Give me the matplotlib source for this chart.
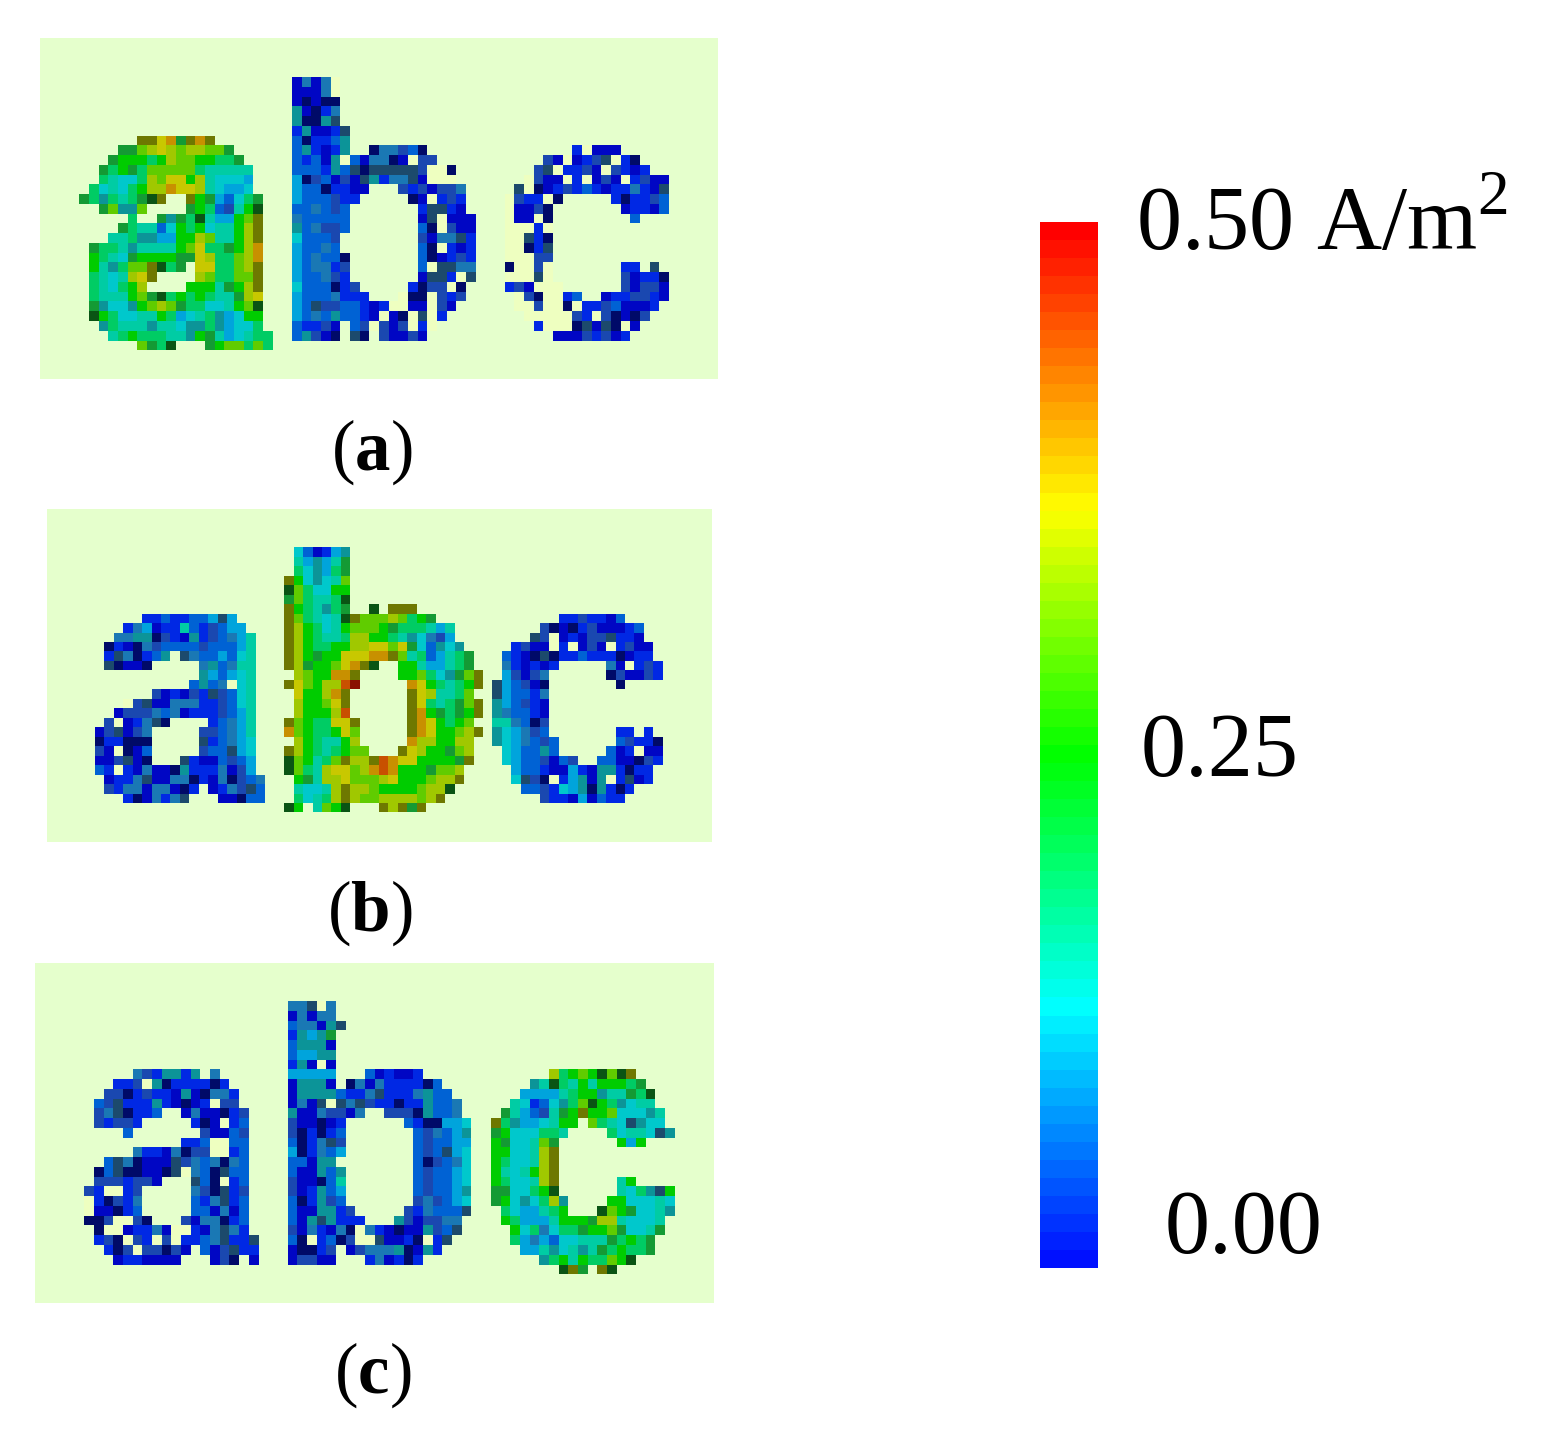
import matplotlib
matplotlib.use('Agg')
import matplotlib.pyplot as plt
from matplotlib.colors import ListedColormap, BoundaryNorm, LinearSegmentedColormap, Normalize
from matplotlib.colorbar import ColorbarBase
import numpy as np

W, H = 1550, 1435

plt.rcParams['font.family'] = ['Liberation Serif', 'DejaVu Serif']
plt.rcParams['mathtext.fontset'] = 'custom'
plt.rcParams['mathtext.rm'] = 'Liberation Serif'
plt.rcParams['mathtext.bf'] = 'Liberation Serif:bold'

# cell codes, '.' = no data
PANEL_A_LEFT = [
    "......................dtdtw....",
    "......................dddtw....",
    "......................dndnn....",
    "......................Tdnbt....",
    "......................TnnTs....",
    "......................bTddbs...",
    "......OOYaKOaO........mnbbmT...",
    "....KKloYoloollK......mTbdbT..n",
    "...KGGGgGollGGggK.....mbmdTwmdt",
    "..KgGKglllllgeeeee....mmmbTmsns",
    "..geyygolYYGoeyyyc....cnumdudsT",
    ".gyeygGooaYYoeyccy....cmmnbbdd.",
    "KgTgegKkO..OGKcmygK...cmmmubb..",
    "..KlTTl....KGgmueGk...mmtmum...",
    ".....g..KTKgkeccGlO...tmmmmm...",
    "....KgeemyGgGyeeGoO...Tmtuum...",
    "...eegTTccGGoleeGoO...ymmmu....",
    ".KggeTeeeeGlYggKGoa...cmmtm....",
    ".GgeyKGGGGKKYoggloa...cmtmmn...",
    ".GeTgllOkgK.YYggloO...cmttbu...",
    ".geyeoYO....olggllO...cmmtub...",
    ".geygGo....GGGeKGoO...ymmmnbu..",
    ".geeeGlKkgGgGgeeKoY...cmmmtbbb.",
    ".KTyyTGlolKggyyeGlk...cmsuummbd",
    ".kGgyyeeGgcyegTcyGG...cmtmTmmbd",
    "..TgeeeTeeyTTgTcyyg...mbbud.muw",
    "...egGgggeeTGKecyegg..mTudn.sn.",
    "......lKgk...KGllglg...........",
]
PANEL_A_RIGHT = [
    "", "", "", "", "", "", "",
    "ttumn...............bwddd.....",
    "tndwuu...........udwdbuswbn...",
    "ssssuwwn........uswbbudwubdb..",
    "bttsdwww.......wuddwbwdudwbudd",
    "..ubuduut.....swndbubmbdbbtbds",
    "...ndwbub....wubbwn.....bnbbum",
    "....bssbd....wddun.......dbbdm",
    "....dswddd...wddwn........m...",
    "....mnwudd...wwwbw............",
    "....udttsb...wwsbn............",
    "....mnwbdb...wwnbs............",
    "....mndbub...wwwuu............",
    "....mwsstt...nwwuw.......bb.s.",
    "....dssbws...wwwsw.......udbbn",
    "...bnuuwn....budwww......uduud",
    "..wnnwubu.....wunwwbm..dbbuubd",
    "bwwddwud......wwuwwnwbbumdddb.",
    "wdnwswb........wwwwwubwundnu..",
    "uduwbw..........bwwwnsdsnwd...",
    "uddud.............dddubudb....",
    "",
]
PANEL_B_LEFT = [
    ".....................ymdbcT...",
    ".....................ecTceK...",
    ".....................gyTcgK...",
    "....................OGyTyel...",
    "....................klgyyGG...",
    "....................Klgeegk...",
    "....................OGgeTgK..k",
    ".....bbmbbmmcsc.....OlgeyekOll",
    "...btcdbbembumcc....OoGgyeGlll",
    "..ttTTnubdTbumtce...OoGgeegooG",
    ".nbdntummmmummmce...OoGggGGooY",
    ".bstnbmT.stmmcmye...OoGKGGYYYa",
    ".snddn.....tTmtee...OoKGGlYaOk",
    "...........Tcmcye....olGGaaO..",
    "..........mTmtwye...OYlGoorR..",
    "......udbdubsumye....YGGoaO...",
    "...wusddtttbbumye....oGGlYO...",
    "..duuutmtdbbbumce....oGGGor...",
    ".uwdbtsn....bmtce...OlGggYYO..",
    "dusdut.....uumtce...alGggGYl..",
    "nbbnnn.....sbmtcy....oGgeeGo..",
    "udwndm.....ummscy...OoGgegGll.",
    "ddusdn...sbddmumc...klGeglOooO",
    "mbwbdtddnTbbbtduc...klgeoYYloa",
    ".dbbtsddttnbdtnumt...GKeooYlll",
    ".ubttdttdnb.dbtusm...eyyeoOool",
    "...bndtbts...ddnmm...gyegoOoll",
    "....................kG.elGk...",
]
PANEL_B_RIGHT = [
    "", "", "", "", "", "",
    ".OOO..........................",
    "lolgGK.............bbubbdm....",
    "GKgggece.........undnbudddbm..",
    "GgeTytuc........suwdbduusbbd..",
    "YlYKymTyT.....buddwbwdudwbudd.",
    "aOlegmcegK...mbdnsnbbmbbbndbb.",
    "..GGeccegK...tbdbdb.....tdwbub",
    "..GGlgyTKlO..cudut......nuddub",
    "...aYGgegGO.scmudn.......n....",
    "...OYoeegl..scmmbt............",
    "...OYgegKlO.Tcmubd............",
    "...OaGKgKGO.Ttmmbd............",
    "...OaYGgGl..eetmnu............",
    "...OaYGGloO.Tyctum.......bb.b.",
    "...aooGGoo..Tyctmum......mubbn",
    "..OYoGGKlo...ycmmTm.....mdbwdd",
    "raYYGGGGKO...ycmmudmu..mmddnub",
    "raGGGKllo.....cmmbddcbdTTbnbb.",
    "oYGGGlooO.....ysunwbcTdTwbsdb.",
    "GGGGlook.......mmubycTnTbnb...",
    "ooooloO..........ubbdcdmbb....",
    "OoOKO",
]
PANEL_C_LEFT = [
    ".....................ttswt.....",
    ".....................dtdtt.....",
    ".....................mttdTs....",
    ".....................bTcTK.....",
    ".....................mTTTd.....",
    ".....................mccTT.....",
    ".....................bTdwd.....",
    ".....tubTTbT.t.......ccccc...md",
    "...bbuwTnbbbbnb......dTTTd.ntdt",
    "..uunbubbdTdnttb.....dTTTTmbbts",
    ".musbbbTbdndbwuu.....dtdswstsub",
    ".utsnbbm..dtddnbu....Tddtuudt..",
    ".ubuub.....bndwbm....uddndb....",
    "....m.......uddmu....unbnbm....",
    "..........bbmwwmm....mnbtsu....",
    ".....tbbdtnuuwwbm....cnbtmc....",
    "..mstndddsutmtntm....mmdTT.....",
    ".nmsnnddnswtmnsmm....mddTmT....",
    ".uuubuud...smnwbm....uddnme....",
    "ubwwbu.....tunsbu....udbTmc....",
    "wbnubt.....mbtsbm....mnbTum....",
    "wddnbm.....mmdtdm....mddTTbu...",
    "nnuwwun...udttnbm....mdTsTbbb..",
    ".nwwdbbtdwwbdtstb....udtbdtnwtb",
    ".bunwubwuwbbmtsbbs...mnwbmnuwws",
    "..bnuwuunud.mdusbb...dnnbu.dutt",
    "...dbbdddd...dun.d...duudd...bt",
    "",
]
PANEL_C_RIGHT = [
    "", "", "", "", "", "", "",
    "bddb.............ogGlGklkO....",
    "bbbbnm.........TekgeGeGGGgK...",
    "bbbtTmm.......ccccegGGTeeKgk..",
    "bnbbTmmt.....eybmyTglkGgTyee..",
    "uuunTmmt....KecmueKGOGGlyyyTe.",
    "..mbnnccy..OgTccyeGG.lgeysTyy.",
    "...mutmcT..KGyyygge....gyeeysT",
    "...mummcc..GKyyelK......GcG...",
    "...mumscy..GGyyeoO............",
    "...mnumty..GgyyeoO............",
    "...mummcy..GeyeGoO............",
    "...mummcy..GgyyeoO......eG....",
    "...mummcT..KKyygGk......eygTsG",
    "...utumcy..KGyTygoT....GGyyyey",
    "..ubtmmms...gyccegG...klGKyyeT",
    ".Tuduutt....GgccceGGGKooeyyye.",
    "dnddTums.....GygtyggKGGlKyyeK.",
    "ddbnwbs......gctcmyyeeeKgGgK..",
    "tTndTb........cceTyeTeKgGggK..",
    "dbnb............TgGeGgglGk....",
    "..................kOK.Ok......",
]

PANEL_LABELS = ['a', 'b', 'c']
BAR_STOPS = [0.0, 0.245, 0.49, 0.73, 1.0]
BAR_COLORS = ['#0010ff', '#00ffff', '#00ff00', '#ffff00', '#ff0000']
BAR_LABELS = ['0.00', '0.25', r'0.50 A/m$^{2}$']

# cell code -> colour
CODES = 'wndbumtscyeTgGKkloOYarR'
CODE_COLORS = ['#eeffc0', '#000a68', '#0006c4', '#0028e4', '#1a48b0', '#0062d4', '#1a78b4',
               '#1c4a6c', '#00a4dc', '#00c8cc', '#00cca4', '#0c9498', '#00cc64', '#00cc00',
               '#149a34', '#0a5414', '#60cc00', '#a0c800', '#6e7800', '#c8c800',
               '#c89000', '#c85000', '#8a1000']
cell_cmap = ListedColormap(CODE_COLORS)
cell_norm = BoundaryNorm(np.arange(len(CODES) + 1) - 0.5, len(CODES))

BG = '#e5ffcc'


def to_grid(left, right, n_left):
    rows = [l.ljust(n_left, '.') + r.ljust(30, '.') for l, r in zip(left, right)]
    grid = np.ma.masked_less(
        np.array([[CODES.find(ch) for ch in row] for row in rows], dtype=float), 0)
    return grid


def add_axes_px(x0, y0, x1, y1):
    return fig.add_axes([x0 / W, 1 - y1 / H, (x1 - x0) / W, (y1 - y0) / H])


fig = plt.figure(figsize=(W / 100, H / 100), dpi=100, facecolor='white')

panels = [
    # grid, background box, grid origin, cell w, cell h, label pos
    (to_grid(PANEL_A_LEFT, PANEL_A_RIGHT, 31), (40, 38, 718, 379), (79.3, 77), 9.67, 9.76, (331, 470)),
    (to_grid(PANEL_B_LEFT, PANEL_B_RIGHT, 30), (47, 509, 712, 842), (94.7, 547.3), 9.47, 9.47, (327, 931)),
    (to_grid(PANEL_C_LEFT, PANEL_C_RIGHT, 31), (35, 963, 714, 1303), (84.3, 1001), 9.68, 9.76, (334, 1393)),
]

for (grid, box, origin, cw, ch, lab), name in zip(panels, PANEL_LABELS):
    x0, y0, x1, y1 = box
    ax = add_axes_px(x0, y0, x1, y1)
    ax.set_facecolor(BG)
    ax.pcolormesh(np.arange(grid.shape[1] + 1), np.arange(grid.shape[0] + 1), grid,
                  cmap=cell_cmap, norm=cell_norm, antialiased=False, linewidth=0)
    ax.set_xlim((x0 - origin[0]) / cw, (x1 - origin[0]) / cw)
    ax.set_ylim((y1 - origin[1]) / ch, (y0 - origin[1]) / ch)
    ax.set_xticks([])
    ax.set_yticks([])
    for s in ax.spines.values():
        s.set_visible(False)
    fig.text(lab[0] / W, 1 - lab[1] / H, '(' + r'$\mathbf{' + name + '}$' + ')',
             fontsize=51, ha='left', va='baseline', color='black')

# colour bar
bar_cmap = LinearSegmentedColormap.from_list('bar', list(zip(BAR_STOPS, BAR_COLORS)), N=58)
cax = add_axes_px(1040, 222, 1098, 1268)
cb = ColorbarBase(cax, cmap=bar_cmap, norm=Normalize(0.0, 0.5), orientation='vertical', ticks=[])
cb.outline.set_visible(False)

for txt, (x, y) in zip(BAR_LABELS, [(1165, 1253), (1141, 776), (1136, 250)]):
    fig.text(x / W, 1 - y / H, txt, fontsize=65, ha='left', va='baseline', color='black')

fig.savefig('out.png', dpi=100)
plt.close(fig)
